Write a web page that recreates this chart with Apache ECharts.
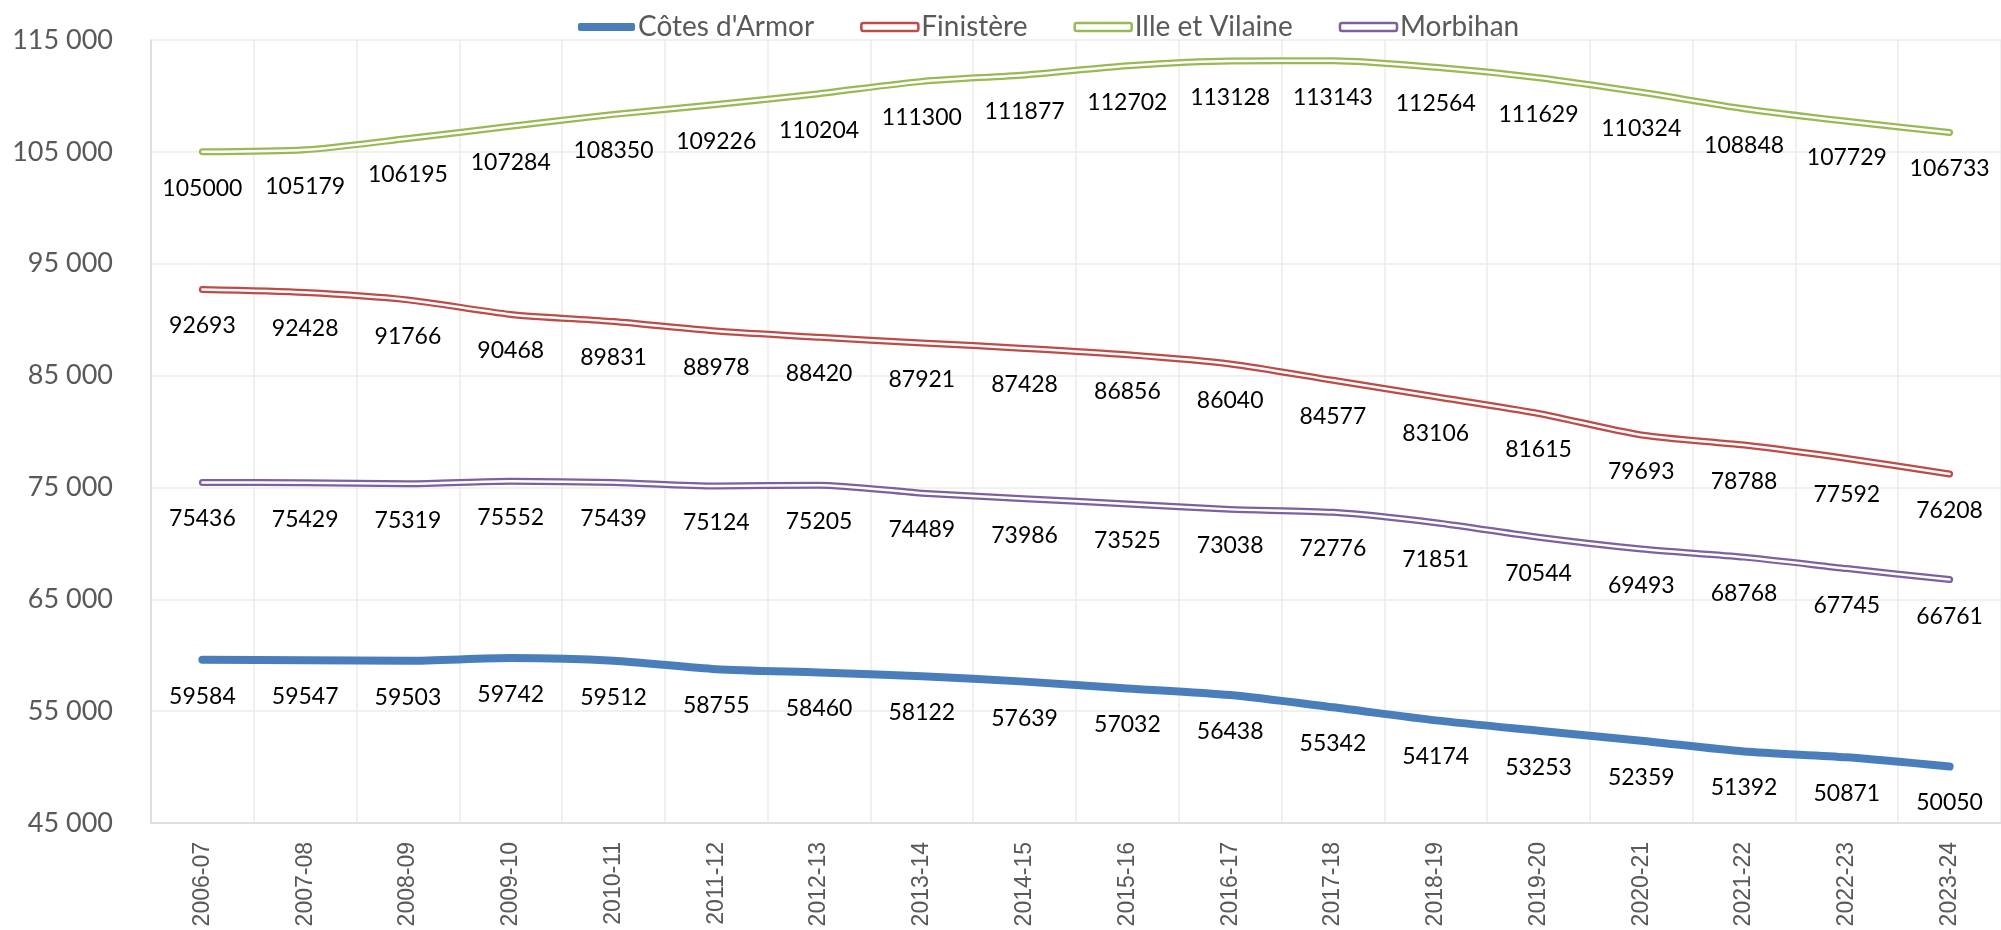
<!DOCTYPE html>
<html>
<head>
<meta charset="utf-8">
<script src="https://cdn.jsdelivr.net/npm/echarts@6/dist/echarts.min.js"></script>
<style>
  html, body { margin: 0; padding: 0; background: #fff; }
  #chart { width: 2001px; height: 930px; }
</style>
</head>
<body>
<div id="chart"></div>
<script>
var years = ['2006-07', '2007-08', '2008-09', '2009-10', '2010-11', '2011-12', '2012-13', '2013-14', '2014-15',
  '2015-16', '2016-17', '2017-18', '2018-19', '2019-20', '2020-21', '2021-22', '2022-23', '2023-24'];

var cotesArmor = [59584, 59547, 59503, 59742, 59512, 58755, 58460, 58122, 57639, 57032, 56438, 55342, 54174, 53253, 52359, 51392, 50871, 50050];
var finistere = [92693, 92428, 91766, 90468, 89831, 88978, 88420, 87921, 87428, 86856, 86040, 84577, 83106, 81615, 79693, 78788, 77592, 76208];
var illeVilaine = [105000, 105179, 106195, 107284, 108350, 109226, 110204, 111300, 111877, 112702, 113128, 113143, 112564, 111629, 110324, 108848, 107729, 106733];
var morbihan = [75436, 75429, 75319, 75552, 75439, 75124, 75205, 74489, 73986, 73525, 73038, 72776, 71851, 70544, 69493, 68768, 67745, 66761];

var chart = echarts.init(document.getElementById('chart'));

// serie "pleine" ou "double trait" (trait de couleur + trait blanc au centre)
function serie(name, data, color, width, hollow) {
  var list = [{
    name: name,
    type: 'line',
    data: data,
    smooth: 0.25,
    showSymbol: true,
    symbol: 'circle',
    symbolSize: 2,
    z: 2,
    lineStyle: { color: color, width: width, cap: 'round', join: 'round' },
    itemStyle: { color: color },
    label: {
      show: true,
      position: 'bottom',
      distance: 24,
      color: '#000',
      fontFamily: 'Lato',
      fontSize: 23
    },
    labelLayout: { hideOverlap: false }
  }];
  if (hollow) {
    list.push({
      name: name + '_inner',
      type: 'line',
      data: data,
      smooth: 0.25,
      showSymbol: false,
      symbol: 'none',
      silent: true,
      z: 3,
      lineStyle: { color: '#fff', width: 2.5, cap: 'round', join: 'round' }
    });
  }
  return list;
}

var series = [].concat(
  serie("Côtes d'Armor", cotesArmor, '#4A7EBB', 8, false),
  serie('Finistère', finistere, '#BE4B48', 7, true),
  serie('Ille et Vilaine', illeVilaine, '#98B954', 7, true),
  serie('Morbihan', morbihan, '#7D60A0', 7, true)
);

chart.setOption({
  animation: false,
  textStyle: { fontFamily: 'Lato' },
  legend: {
    left: 573,
    top: 8,
    itemWidth: 57,
    itemHeight: 8,
    itemGap: 46,
    textStyle: { fontFamily: 'Lato', fontSize: 28, color: '#595959', padding: [0, 0, 0, -2] },
    data: [
      { name: "Côtes d'Armor", icon: 'roundRect', itemStyle: { color: '#4A7EBB', borderWidth: 0, opacity: 1 } },
      { name: 'Finistère', icon: 'roundRect', itemStyle: { color: '#fff', borderColor: '#BE4B48', borderWidth: 2.5, opacity: 1 } },
      { name: 'Ille et Vilaine', icon: 'roundRect', itemStyle: { color: '#fff', borderColor: '#98B954', borderWidth: 2.5, opacity: 1 } },
      { name: 'Morbihan', icon: 'roundRect', itemStyle: { color: '#fff', borderColor: '#7D60A0', borderWidth: 2.5, opacity: 1 } }
    ]
  },
  grid: {
    left: 151,
    right: -10,
    top: 40,
    bottom: 107
  },
  xAxis: {
    type: 'category',
    data: years,
    boundaryGap: true,
    axisLine: { lineStyle: { color: '#D9D9D9', width: 1.5 } },
    axisTick: { show: false },
    splitLine: { show: true, lineStyle: { color: '#EBEBEB', width: 1.5 } },
    axisLabel: {
      rotate: 90,
      margin: 19,
      interval: 0,
      fontFamily: 'Liberation Sans',
      fontSize: 23,
      color: '#595959'
    }
  },
  yAxis: {
    type: 'value',
    min: 45000,
    max: 115000,
    interval: 10000,
    axisLine: { show: true, lineStyle: { color: '#D9D9D9', width: 1.5 } },
    axisTick: { show: false },
    splitLine: { lineStyle: { color: '#EBEBEB', width: 1.5 } },
    axisLabel: {
      margin: 38,
      fontFamily: 'Lato',
      fontSize: 27,
      color: '#595959',
      formatter: function (v) {
        return String(v).replace(/\B(?=(\d{3})+(?!\d))/g, ' ');
      }
    }
  },
  series: series
});
</script>
</body>
</html>
